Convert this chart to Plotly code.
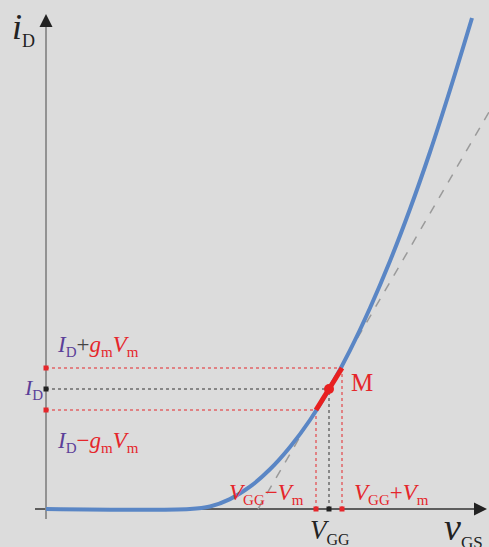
import plotly.graph_objects as go

# transfer curve i_D(v_GS) (arbitrary units)
vgs = [0, 1.44, 1.64, 1.84, 2.04, 2.24, 2.44, 2.64, 2.84, 3.04, 3.24, 3.44, 3.64, 3.84, 4.04, 4.26]
i_d = [0, 0, 0.025, 0.099, 0.223, 0.397, 0.62, 0.89, 1.215, 1.587, 2.01, 2.48, 3.00, 3.57, 4.19, 4.91]

# operating point and swing
VGG = 2.83
VM = 0.13
ID = 1.20
ID_HI = 1.41
ID_LO = 0.99
seg_x = [VGG - VM, VGG, VGG + VM]
seg_y = [ID_LO, ID, ID_HI]

# tangent at M
tan_x = [2.12, 4.43]
tan_y = [0, 3.97]

bg = '#dcdcdc'
blue = '#5a86c5'
red = '#e5262b'
purple = '#5b3f98'
serif = 'Liberation Serif'

fig = go.Figure()

# axes
fig.add_trace(go.Scatter(x=[-0.11, 4.35], y=[0, 0], mode='lines',
                         line=dict(color='#333333', width=1.5), hoverinfo='skip'))
fig.add_trace(go.Scatter(x=[0, 0], y=[-0.10, 4.85], mode='lines',
                         line=dict(color='#8a8a8a', width=1.8), hoverinfo='skip'))

# dotted guide lines
for xv, yv, c in [(seg_x[0], seg_y[0], red), (seg_x[1], seg_y[1], '#333333'), (seg_x[2], seg_y[2], red)]:
    fig.add_trace(go.Scatter(x=[0, xv], y=[yv, yv], mode='lines',
                             line=dict(color=c, width=1, dash='dot'), hoverinfo='skip'))
    fig.add_trace(go.Scatter(x=[xv, xv], y=[0, yv], mode='lines',
                             line=dict(color=c, width=1, dash='dot'), hoverinfo='skip'))

# tangent
fig.add_trace(go.Scatter(x=tan_x, y=tan_y, mode='lines',
                         line=dict(color='#9a9a9a', width=1.5, dash='dash'), hoverinfo='skip'))

# curve
fig.add_trace(go.Scatter(x=vgs, y=i_d, mode='lines', line_shape='spline',
                         line=dict(color=blue, width=4), hoverinfo='skip'))

# signal swing on the curve
fig.add_trace(go.Scatter(x=seg_x, y=seg_y, mode='lines', line_shape='spline',
                         line=dict(color='#e82020', width=5), hoverinfo='skip'))
fig.add_trace(go.Scatter(x=[VGG], y=[ID], mode='markers',
                         marker=dict(color='#e82020', size=10), hoverinfo='skip'))

# small squares on the axes
sq_col = [red, '#222222', red]
fig.add_trace(go.Scatter(x=[0, 0, 0], y=seg_y, mode='markers',
                         marker=dict(symbol='square', size=5, color=sq_col), hoverinfo='skip'))
fig.add_trace(go.Scatter(x=seg_x, y=[0, 0, 0], mode='markers',
                         marker=dict(symbol='square', size=5, color=sq_col), hoverinfo='skip'))

# arrow heads
fig.add_annotation(x=4.41, y=0, ax=-14, ay=0, showarrow=True, arrowhead=2,
                   arrowsize=1.3, arrowwidth=2, arrowcolor='#222222', text='')
fig.add_annotation(x=0, y=4.95, ax=0, ay=14, showarrow=True, arrowhead=2,
                   arrowsize=1.3, arrowwidth=2, arrowcolor='#222222', text='')


def sub(s, size):
    return f"<sub><span style='font-size:{size}px'>{s}</span></sub>"


def lab(x, y, text, size, color='#222222', xanchor='left'):
    fig.add_annotation(x=x, y=y, text=text, showarrow=False, xanchor=xanchor,
                       yanchor='middle', font=dict(family=serif, size=size, color=color))


pid = f"<span style='color:{purple}'><i>I</i>{sub('D', 15)}</span>"
gv = f"<i>g</i>{sub('m', 15)}<i>V</i>{sub('m', 15)}"

lab(-0.09, 4.80, "<i>i</i>" + sub('D', 18), 36, xanchor='right')
lab(0.09, ID_HI + 0.22, pid + "<span style='color:#444'>+</span>" + gv, 23, red)
lab(-0.01, ID, pid, 22, purple, xanchor='right')
lab(0.09, ID_LO - 0.32, pid + "−" + gv, 23, red)
lab(VGG + 0.20, ID + 0.07, "M", 25, red)
lab(VGG - VM - 0.10, 0.15, "<i>V</i>" + sub('GG', 15) + "−<i>V</i>" + sub('m', 15), 23, red, xanchor='right')
lab(VGG + VM + 0.10, 0.15, "<i>V</i>" + sub('GG', 15) + "+<i>V</i>" + sub('m', 15), 23, red)
lab(VGG + 0.01, -0.22, "<i>V</i>" + sub('GG', 16), 27, '#222222', xanchor='center')
lab(3.96, -0.20, "<i>v</i>" + sub('GS', 17), 38, '#222222')

fig.update_layout(
    width=489, height=547,
    margin=dict(l=0, r=0, t=0, b=0, autoexpand=False),
    paper_bgcolor=bg, plot_bgcolor=bg,
    showlegend=False,
    xaxis=dict(range=[-0.46, 4.43], visible=False, fixedrange=True),
    yaxis=dict(range=[-0.38, 5.09], visible=False, fixedrange=True),
)

fig.write_html("out.html", config={'displayModeBar': False},
               post_script="document.body.style.margin='0';document.body.style.background='#dcdcdc';")
